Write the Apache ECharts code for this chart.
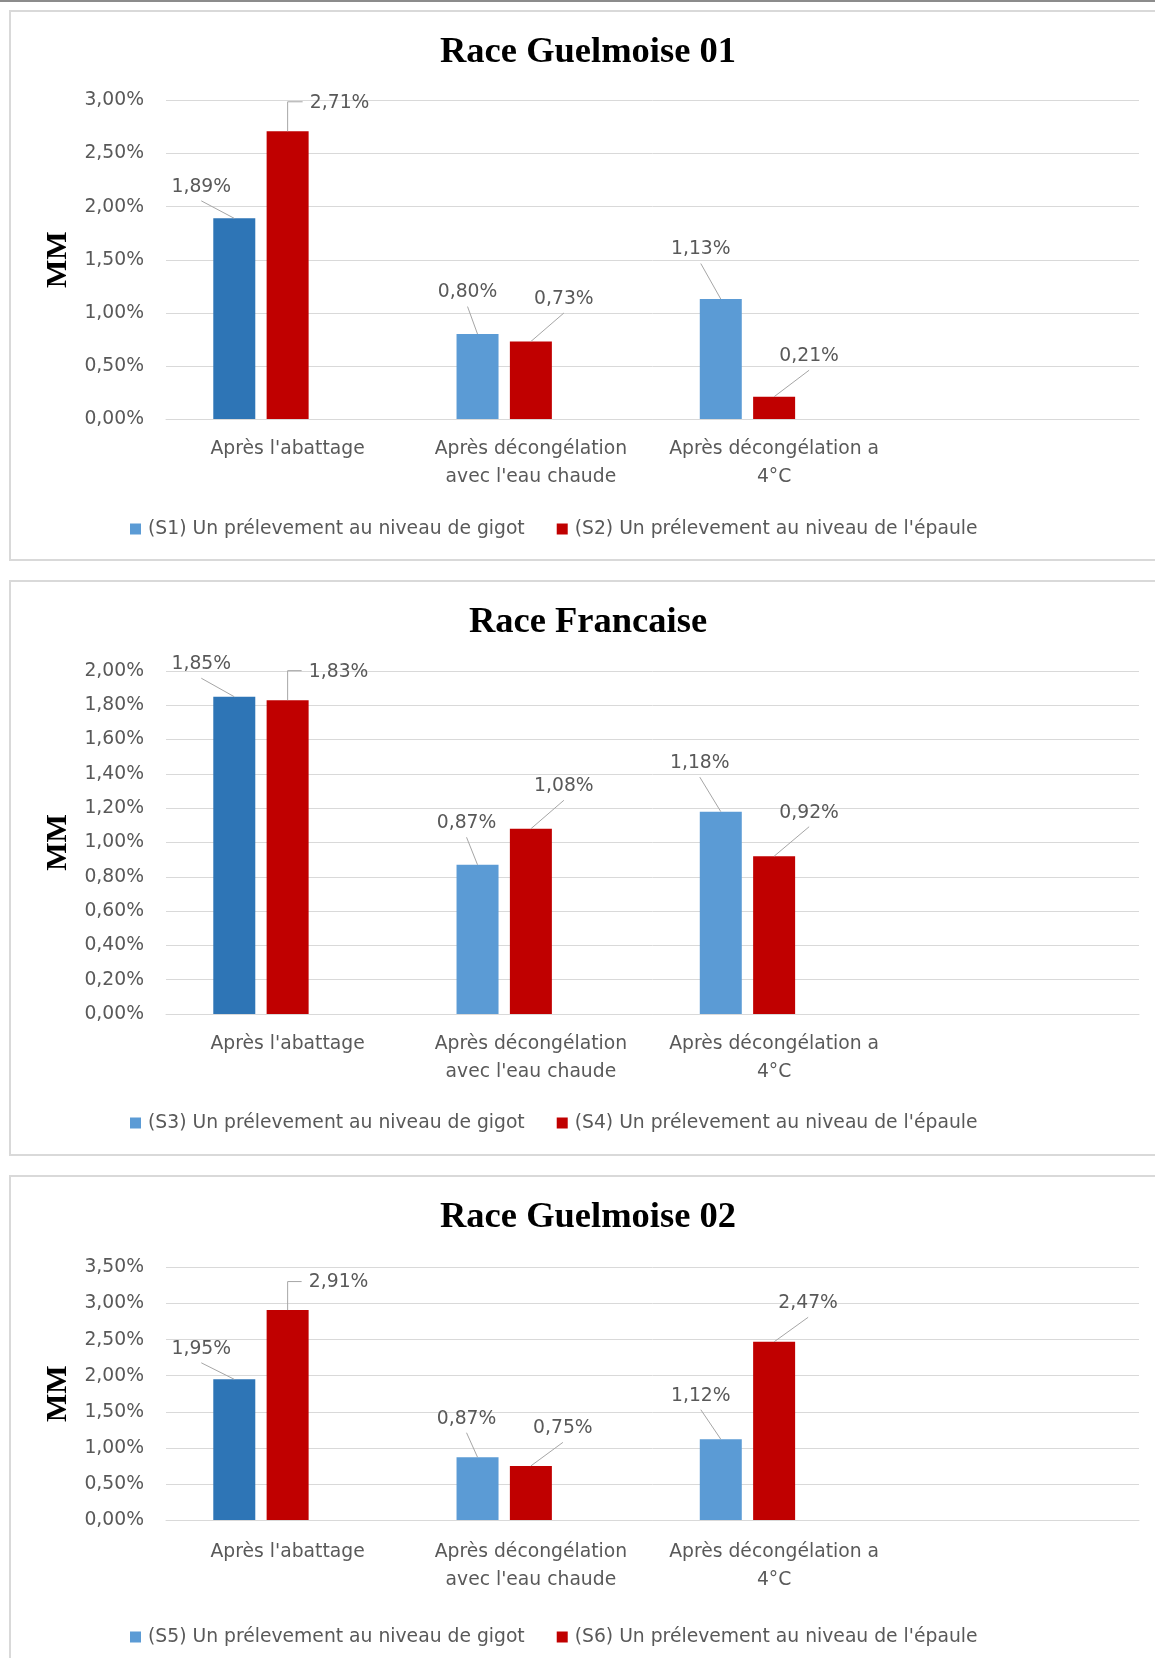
<!DOCTYPE html>
<html>
<head>
<meta charset="utf-8">
<script src="https://cdn.jsdelivr.net/npm/echarts@6/dist/echarts.min.js"></script>
<style>
  html, body { margin: 0; padding: 0; background: #fff; }
  #chart { width: 1155px; height: 1658px; }
</style>
</head>
<body>
<div id="chart"></div>
<script>
// Categories (the fourth slot is left empty, as in the source spreadsheet)
const categories = [
  "Après l'abattage",
  "Après décongélation\navec l'eau chaude",
  "Après décongélation a\n4°C",
  ""
];

// Race Guelmoise 01
const titre01 = 'Race Guelmoise 01';
const nomS1 = '(S1) Un prélevement au niveau de gigot';
const nomS2 = "(S2) Un prélevement au niveau de l'épaule";
const s1 = [1.89, 0.80, 1.13];
const s2 = [2.71, 0.73, 0.21];

// Race Francaise
const titreFr = 'Race Francaise';
const nomS3 = '(S3) Un prélevement au niveau de gigot';
const nomS4 = "(S4) Un prélevement au niveau de l'épaule";
const s3 = [1.85, 0.87, 1.18];
const s4 = [1.83, 1.08, 0.92];

// Race Guelmoise 02
const titre02 = 'Race Guelmoise 02';
const nomS5 = '(S5) Un prélevement au niveau de gigot';
const nomS6 = "(S6) Un prélevement au niveau de l'épaule";
const s5 = [1.95, 0.87, 1.12];
const s6 = [2.91, 0.75, 2.47];

// Value-axis ranges (percent)
const axe01 = { max: 3.0, interval: 0.5 };
const axeFr = { max: 2.0, interval: 0.2 };
const axe02 = { max: 3.5, interval: 0.5 };

// ---- styling ----
const SANS = 'DejaVu Sans';
const SERIF = 'Liberation Serif';
const GREY_TEXT = '#595959';
const GRID_LINE = '#d9d9d9';
const LEADER = '#a6a6a6';
const BLUE = '#5B9BD5';
const BLUE_DARK = '#2E75B6';
const RED = '#C00000';
const FS = 18.75;
const BAR_W = 42;
const BAR_GAP = 0.27;            // gap between bars, as a fraction of the bar width

const fmt = v => v.toFixed(2).replace('.', ',') + '%';

// callout placement around each bar top: [dx, dy] of the label centre from the top centre of the bar
const calloutGigot = [
  [[-33, -31.5], [-10, -41.5], [-20, -49.5]],
  [[-33, -32.5], [-11, -41.5], [-21, -48.5]],
  [[-33, -30.5], [-11, -38.5], [-20, -43.5]]
];
const calloutEpaule = [
  [[52, -28.5], [33, -42.5], [35, -40.5]],
  [[51, -28.5], [33, -42.5], [35, -43.5]],
  [[51, -27.5], [32, -37.5], [34, -38.5]]
];

const panels = [
  { title: titre01, names: [nomS1, nomS2], data: [s1, s2], axis: axe01,
    panelTop: 11, panelBottom: 560, gridTop: 100.5, gridBottom: 419,
    labelGap: 16, legendY: 529 },
  { title: titreFr, names: [nomS3, nomS4], data: [s3, s4], axis: axeFr,
    panelTop: 581, panelBottom: 1155, gridTop: 671, gridBottom: 1014,
    labelGap: 16, legendY: 1123 },
  { title: titre02, names: [nomS5, nomS6], data: [s5, s6], axis: axe02,
    panelTop: 1176, panelBottom: 1680, gridTop: 1267.5, gridBottom: 1520,
    labelGap: 18, legendY: 1637 }
];

const option = {
  backgroundColor: '#ffffff',
  animation: false,
  title: [], legend: [], grid: [], xAxis: [], yAxis: [], series: [],
  graphic: [
    { type: 'rect', shape: { x: 0, y: 0, width: 1155, height: 2 }, style: { fill: '#8c8c8c' }, z: -1 }
  ]
};

// horizontal shift of a bar from its category centre (three slots per group, the third empty)
const slotShift = k => (k - 1) * BAR_W * (1 + BAR_GAP);

panels.forEach((p, i) => {
  // panel frame
  option.graphic.push({
    type: 'rect', z: -1,
    shape: { x: 10, y: p.panelTop, width: 1160, height: p.panelBottom - p.panelTop },
    style: { fill: 'none', stroke: GRID_LINE, lineWidth: 2 }
  });

  option.title.push({
    text: p.title,
    left: 588, top: p.panelTop + 42 - 20,
    textAlign: 'center',
    padding: 0,
    textStyle: { fontFamily: SERIF, fontWeight: 'bold', fontSize: 36.5, lineHeight: 40, color: '#000' }
  });

  option.legend.push({
    data: p.names,
    left: 130, top: p.legendY - 10,
    padding: 0, icon: 'rect', itemWidth: 11, itemHeight: 11, itemGap: 32,
    textStyle: { fontFamily: SANS, fontSize: FS, lineHeight: 20, color: GREY_TEXT, padding: [0, 0, 0, 2] }
  });

  option.grid.push({
    left: 166, right: 16, top: p.gridTop, height: p.gridBottom - p.gridTop, containLabel: false
  });

  option.xAxis.push({
    type: 'category', gridIndex: i, data: categories,
    axisLine: { show: true, lineStyle: { color: GRID_LINE, width: 1 } },
    axisTick: { show: false },
    axisLabel: { color: GREY_TEXT, fontFamily: SANS, fontSize: FS, lineHeight: 28, margin: p.labelGap, interval: 0 }
  });

  option.yAxis.push({
    type: 'value', gridIndex: i, min: 0, max: p.axis.max, interval: p.axis.interval,
    name: 'MM', nameLocation: 'middle', nameGap: 82,
    nameTextStyle: { fontFamily: SERIF, fontWeight: 'bold', fontSize: 30, color: '#000' },
    axisLine: { show: false }, axisTick: { show: false },
    splitLine: { lineStyle: { color: GRID_LINE, width: 1 } },
    axisLabel: { color: GREY_TEXT, fontFamily: SANS, fontSize: FS, margin: 22, formatter: v => fmt(v) }
  });

  const callouts = [calloutGigot[i], calloutEpaule[i]];
  const colors = [BLUE, RED];

  [0, 1].forEach(k => {
    const off = callouts[k];
    option.series.push({
      type: 'bar', name: p.names[k], xAxisIndex: i, yAxisIndex: i,
      barWidth: BAR_W, barGap: (BAR_GAP * 100) + '%',
      itemStyle: { color: colors[k] },
      data: p.data[k].map((v, j) => (k === 0 && j === 0)
        ? { value: v, itemStyle: { color: BLUE_DARK } }
        : v),
      label: {
        show: true, position: 'top', formatter: d => fmt(d.value),
        color: GREY_TEXT, fontFamily: SANS, fontSize: FS, lineHeight: 22
      },
      labelLayout: params => {
        const o = off[params.dataIndex];
        const r = params.rect;
        return {
          x: r.x + r.width / 2 + o[0],
          y: r.y + o[1],
          align: 'center', verticalAlign: 'middle'
        };
      }
    });

    // callout leader lines from the bar top to its label
    option.series.push({
      type: 'custom', name: p.names[k] + ' ', xAxisIndex: i, yAxisIndex: i,
      coordinateSystem: 'cartesian2d', silent: true, z: 3,
      data: p.data[k].map((v, j) => [j, v]),
      encode: { x: 0, y: 1 },
      renderItem: (params, api) => {
        const j = api.value(0);
        const top = api.coord([j, api.value(1)]);
        const bx = top[0] + slotShift(k);
        const by = top[1];
        const o = off[j];
        const lx = bx + o[0], ly = by + o[1];
        let pts;
        if (Math.abs(o[0]) > 45) {
          // label beside the bar: elbow, up then across to the label
          const ex = lx - Math.sign(o[0]) * 37;
          pts = [[bx, by], [bx, ly - 1], [ex, ly - 1]];
        } else {
          pts = [[bx, by], [lx, ly + 14]];
        }
        return {
          type: 'polyline',
          shape: { points: pts },
          style: { stroke: LEADER, lineWidth: 1, fill: 'none' }
        };
      }
    });
  });

  // third, empty slot of each group (keeps the two bars left of the category centre)
  option.series.push({
    type: 'bar', name: '', xAxisIndex: i, yAxisIndex: i,
    barWidth: BAR_W, barGap: (BAR_GAP * 100) + '%', data: [null, null, null, null]
  });
});

const chart = echarts.init(document.getElementById('chart'), null, { renderer: 'canvas' });
chart.setOption(option);
</script>
</body>
</html>
